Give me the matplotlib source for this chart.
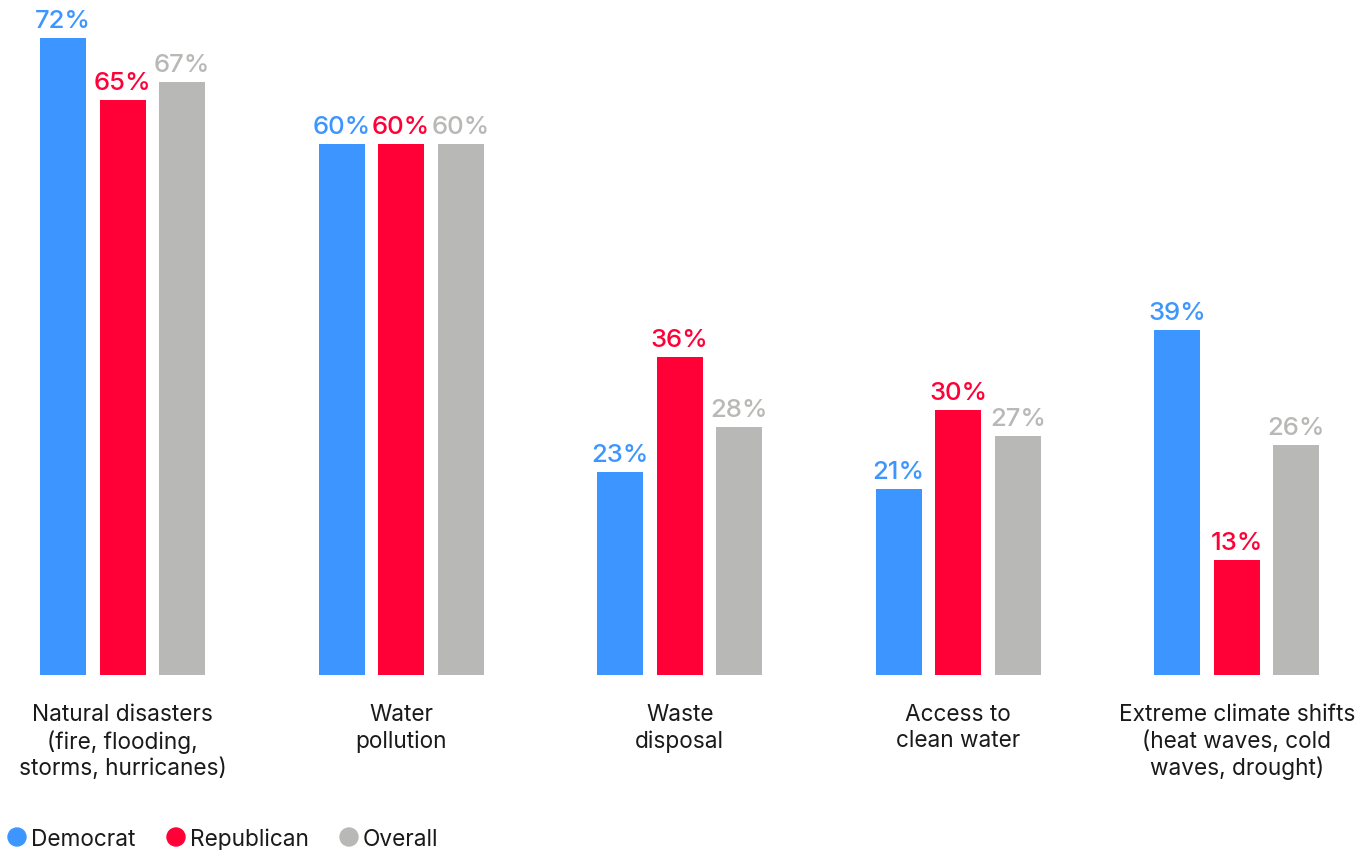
import matplotlib
matplotlib.use("Agg")
import matplotlib.pyplot as plt
import numpy as np

categories = ["Natural disasters\n(fire, flooding,\nstorms, hurricanes)",
              "Water\npollution",
              "Waste\ndisposal",
              "Access to\nclean water",
              "Extreme climate shifts\n(heat waves, cold\nwaves, drought)"]
series_names = ["Democrat", "Republican", "Overall"]
democrat = [72, 60, 23, 21, 39]
republican = [65, 60, 36, 30, 13]
overall = [67, 60, 28, 27, 26]
colors = ["#3d96ff", "#ff0037", "#b8b8b6"]

plt.rcParams['font.family'] = ['Inter', 'DejaVu Sans']

W, H = 1372, 850
fig = plt.figure(figsize=(W/100, H/100), dpi=100)
bottom_px = 675
ax = fig.add_axes([0, (H - bottom_px)/H, 1, bottom_px/H])
step = 278.6
x0 = -122.5/step
x1 = (W - 122.5)/step
ax.set_xlim(x0, x1)
pxper = 637/72
ax.set_ylim(0, bottom_px/pxper)
ax.axis('off')

x = np.arange(len(categories))
off = 59.5/step
bw = 46/step
for k, (vals, c) in enumerate(zip([democrat, republican, overall], colors)):
    xs = x + (k-1)*off
    ax.bar(xs, vals, width=bw, color=c)
    for xi, v in zip(xs, vals):
        ax.annotate(f"{v}%", (xi, v), xytext=(0, 3.5), textcoords='offset points',
                    ha='center', va='bottom', color=c, fontsize=18.5,
                    fontweight='medium')

for xi, lab in zip(x, categories):
    ax.annotate(lab, (xi, 0), xytext=(0, -21), textcoords='offset points',
                ha='center', va='top', fontsize=16.3, color='#1a1a1a',
                linespacing=1.22, annotation_clip=False)

# legend
leg_x = [17, 176, 349]
for lx, name, c in zip(leg_x, series_names, colors):
    fig.patches.append(matplotlib.patches.Ellipse((lx/W, 1 - 837/H), 18/W, 18/H,
                                                  transform=fig.transFigure, color=c))
    fig.text((lx + 14)/W, 1 - 837/H, name, ha='left', va='center_baseline',
             fontsize=16.3, color='#1a1a1a')

fig.savefig("out.png", dpi=100)
